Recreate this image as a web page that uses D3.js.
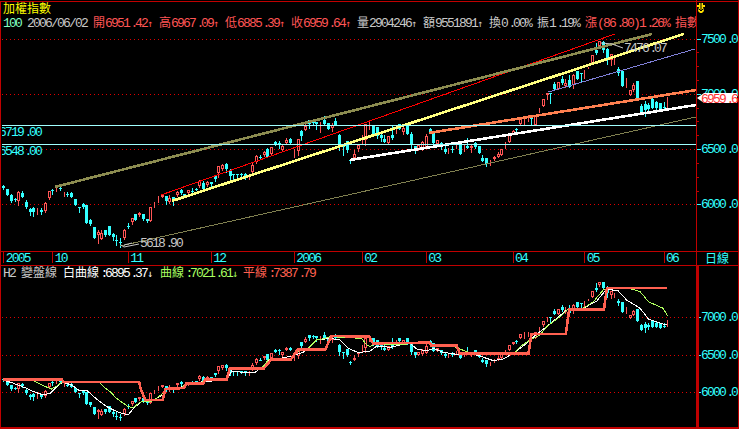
<!DOCTYPE html>
<html>
<head>
<meta charset="utf-8">
<script src="https://cdn.jsdelivr.net/npm/d3@7"></script>
<style>
  html, body { margin: 0; padding: 0; background: #000; }
  svg { display: block; }
</style>
</head>
<body>
<div id="chart"></div>
<script>
// daily candles, one value per trading day
var opens = [6170,6140,6085,6049,6031,6103,6022,5959,5968,5941,
  5950,5941,6058,6130,6149,6149,6094,6094,6103,6049,
  5977,6004,5995,5859,5796,5724,5688,5769,5805,5733,
  5679,5660,5697,5805,5841,5914,5904,5914,5868,5850,
  5995,6067,6067,6076,6022,6067,6085,6130,6094,6103,
  6121,6139,6166,6193,6176,6203,6257,6284,6320,6365,
  6302,6275,6275,6275,6275,6257,6293,6384,6429,6447,
  6501,6456,6564,6555,6492,6555,6591,6465,6483,6664,
  6673,6763,6745,6745,6727,6763,6736,6691,6754,6628,
  6528,6573,6401,6420,6501,6580,6582,6709,6718,6700,
  6628,6591,6555,6628,6673,6727,6655,6718,6637,6528,
  6492,6501,6519,6682,6652,6546,6555,6501,6483,6501,
  6519,6537,6519,6528,6510,6555,6528,6420,6420,6384,
  6411,6429,6447,6546,6564,6637,6682,6727,6760,6773,
  6782,6718,6845,6890,6990,7007,7089,7044,7134,7071,
  7125,7080,7206,7188,7188,7237,7279,7396,7432,7468,
  7405,7306,7315,7224,7206,7098,6990,7035,7116,6890,
  6908,6899,6953,6926,6917,6881,6951];
var highs = [6179,6140,6094,6058,6121,6121,6040,5968,5977,5968,
  5968,6022,6121,6140,6167,6176,6112,6112,6112,6049,
  5977,6013,5995,5868,5796,5769,5769,5769,5805,5742,
  5724,5697,5778,5832,5877,5914,5932,5914,5868,5977,
  6022,6076,6085,6076,6085,6067,6121,6139,6094,6130,
  6148,6148,6221,6212,6212,6203,6257,6347,6365,6374,
  6320,6275,6275,6284,6284,6275,6384,6447,6447,6483,
  6510,6519,6573,6573,6537,6600,6600,6501,6591,6673,
  6736,6763,6763,6745,6745,6799,6736,6736,6781,6637,
  6528,6573,6413,6492,6537,6628,6727,6745,6718,6700,
  6646,6628,6619,6718,6700,6727,6700,6718,6655,6528,
  6537,6573,6637,6691,6652,6582,6564,6537,6510,6528,
  6546,6537,6537,6600,6537,6564,6528,6447,6420,6402,
  6438,6474,6501,6564,6628,6673,6691,6780,6800,6809,
  6782,6809,6872,6953,7007,7007,7107,7107,7161,7134,
  7170,7179,7206,7188,7215,7246,7351,7459,7476,7477,
  7414,7360,7324,7242,7206,7143,7035,7098,7116,6908,
  6935,6917,6962,6935,6917,6926,6967];
var lows = [6140,6085,6022,6031,5995,6067,5968,5904,5895,5914,
  5914,5932,6049,6094,6121,6130,6076,6076,6067,5995,
  5932,5968,5832,5814,5697,5651,5688,5715,5724,5679,
  5633,5619,5688,5787,5823,5859,5895,5859,5841,5850,
  5977,6022,6067,6004,6013,5995,6076,6094,6067,6085,
  6112,6130,6157,6139,6166,6166,6212,6248,6311,6293,
  6230,6230,6230,6248,6230,6230,6293,6374,6420,6438,
  6429,6456,6537,6510,6483,6555,6555,6429,6447,6582,
  6673,6691,6718,6682,6655,6727,6682,6664,6718,6492,
  6447,6474,6377,6420,6483,6552,6537,6682,6628,6600,
  6573,6564,6555,6591,6646,6682,6637,6637,6501,6465,
  6492,6492,6519,6652,6552,6546,6501,6465,6465,6474,
  6510,6456,6483,6510,6474,6510,6465,6393,6347,6357,
  6402,6429,6447,6510,6564,6637,6655,6727,6727,6755,
  6727,6718,6836,6887,6953,6917,7044,7044,7089,7062,
  7062,7053,7134,7107,7143,7237,7279,7360,7420,7378,
  7270,7261,7270,7170,7071,7062,6990,7026,6953,6836,
  6800,6845,6872,6863,6854,6872,6885];
var closes = [6152,6085,6031,6040,6112,6070,5977,5932,5932,5950,
  5932,6013,6121,6121,6158,6140,6103,6085,6067,5995,
  5968,5977,5832,5823,5697,5751,5742,5724,5724,5706,
  5670,5651,5769,5796,5877,5859,5923,5868,5850,5977,
  6004,6076,6085,6031,6058,6031,6112,6103,6067,6130,
  6112,6130,6212,6139,6203,6185,6230,6347,6356,6320,
  6257,6266,6266,6266,6248,6266,6356,6438,6420,6474,
  6429,6519,6537,6546,6528,6582,6555,6474,6591,6618,
  6709,6727,6736,6727,6736,6727,6682,6718,6718,6528,
  6519,6492,6392,6459,6537,6590,6727,6718,6628,6618,
  6600,6564,6619,6600,6682,6682,6691,6637,6537,6492,
  6537,6564,6619,6652,6552,6582,6519,6474,6492,6492,
  6528,6456,6528,6510,6528,6519,6465,6393,6366,6393,
  6429,6456,6501,6555,6628,6664,6673,6773,6770,6782,
  6773,6809,6854,6953,7007,6998,7044,7107,7098,7098,
  7062,7170,7134,7179,7197,7246,7351,7369,7477,7396,
  7324,7360,7324,7188,7071,7107,7035,7080,6953,6836,
  6854,6863,6872,6872,6854,6872,6960];

// month ticks on the date strip
var monthIndex = [0, 13, 33, 55, 77, 95, 112, 135, 154, 175];
var monthLabels = ["2005", "10", "11", "12", "2006", "02", "03", "04", "05", "06"];

var upperTicks = [6000, 6500, 7000, 7500];
var upperMinor = [6125, 6250, 6375, 6625, 6750, 6875, 7125, 7250, 7375];
var lowerTicks = [6000, 6500, 7000];
var lowerMinor = [6250, 6375, 6750, 6875];
var levelLines = [6719, 6548];

// hand drawn trend lines: [day, index value]
var oliveThick = [[13.7, 6158], [172, 7541]];
var yellowLine = [[44.7, 6031], [180.4, 7541]];
var redLine = [[41.8, 6085], [162.1, 7541]];
var blueLine = [[144.4, 7016], [183.3, 7405]];
var orangeLine = [[112.8, 6646], [183.8, 7035]];
var whiteLine = [[91.9, 6402], [183.6, 6899]];
var oliveThin = [[31, 5624], [183.6, 6791]];

// lower panel curves: [day, value] at the bends
var whiteCurve = [[0,6157],[2.7,6113],[5.8,6054],[8,6001],[10.6,5956],[12.4,5978],[14.6,6090],[15.9,6126],
  [18.1,6090],[20.3,6010],[22.3,6010],[24.7,5902],[27.4,5799],[30.5,5723],[33.1,5687],[34.5,5777],
  [36.7,5866],[39.3,5875],[41.5,5933],[43,6023],[46.8,6045],[48.2,6099],[53,6135],[59.2,6157],
  [60.5,6278],[63.6,6260],[66.7,6260],[68.9,6337],[70.2,6413],[76.9,6484],[79.5,6529],[83,6695],
  [86.6,6717],[89.2,6695],[91.4,6583],[94.1,6525],[97.2,6547],[99,6614],[102.5,6596],[106,6637],
  [107.8,6650],[109.6,6574],[112.2,6547],[114,6583],[116.6,6529],[120.2,6502],[125.5,6493],[129.9,6417],
  [132.5,6440],[135.2,6516],[138.7,6650],[140.9,6753],[144,6874],[149.3,7098],[153.7,7121],[157.3,7219],
  [159.9,7380],[163,7354],[165.2,7233],[168.8,7121],[171,6977],[174.9,6910],[176,6895]];
var greenCurve = [[0,6157],[7.5,6157],[10.6,6081],[12.8,6036],[14.6,6090],[15.7,6135],[25.6,6126],[26.5,6068],
  [28.3,6001],[30,5911],[33.1,5799],[34.5,5786],[36.2,5857],[37.6,5875],[39.3,5875],[40.6,5911],
  [42.4,5978],[43.1,6036],[45.1,6036],[47.3,6054],[47.9,6090],[52.1,6099],[53,6148],[59.2,6166],
  [60.1,6292],[67.1,6292],[68.9,6337],[70.2,6426],[76.4,6449],[77.3,6529],[80.8,6583],[83,6695],
  [85.3,6717],[86.6,6740],[95,6717],[96.3,6628],[97.2,6605],[98.1,6628],[106,6628],[107.8,6650],
  [112.9,6664],[113.8,6628],[119.7,6605],[121,6574],[123.3,6529],[135.2,6502],[137,6605],[139.6,6695],
  [142.3,6762],[144,6874],[147.6,7009],[149.8,7121],[153.7,7121],[156.4,7210],[159,7367],[160.1,7389],
  [166.5,7380],[168.8,7345],[171,7210],[174.9,7121],[175.8,7040],[176,7022]];
var flatLine = [[0,6166],[15.5,6166],[16,6130],[36,6130],[36.4,6040],[37.6,5889],[42.2,5889],[43,6036],
  [47.9,6050],[48.5,6108],[53,6108],[53.5,6162],[59.2,6162],[60,6310],[69,6310],[71,6431],
  [76.2,6431],[78,6565],[85.3,6565],[87,6749],[97,6740],[98,6650],[113,6659],[113.5,6619],
  [120.2,6619],[121,6516],[139.2,6516],[140,6776],[149.1,6776],[150,7103],[159.2,7103],[160,7394],[176,7394]];

var red = "#ff5555", cyan = "#33ffff", frame = "#c00000", gray = "#c8c8c8";
var width = 739, height = 429;

var x = d3.scaleLinear().domain([0, 176]).range([3.3, 667.3]);
var yUp = d3.scaleLinear().domain([6000, 7500]).range([204.4, 38.5]);
var yLow = d3.scaleLinear().domain([6000, 7000]).range([391.7, 317.3]);

var svg = d3.select("#chart").append("svg")
    .attr("width", width)
    .attr("height", height)
    .style("background", "#000");

var defs = svg.append("defs");
defs.append("clipPath").attr("id", "plotUp").append("rect")
    .attr("x", 2).attr("y", 2).attr("width", 694).attr("height", 249);
defs.append("clipPath").attr("id", "plotLow").append("rect")
    .attr("x", 2).attr("y", 266).attr("width", 694).attr("height", 162);

// writes a string on the terminal's character grid: 6px half width, 12px full width
function cells(t, str, x0) {
  var runs = [], px = x0;
  Array.from(str).forEach(function(ch) {
    var kind = ch.charCodeAt(0) > 0x2E80 ? "wide" : (ch === "↑" || ch === "↓" ? "arrow" : "narrow");
    var last = runs[runs.length - 1];
    if (!last || last.kind !== kind) { last = { kind: kind, text: "", xs: [] }; runs.push(last); }
    last.text += ch;
    last.xs.push(px + (ch === "." || ch === ":" ? 1.5 : 0));
    px += kind === "wide" ? 12 : 6;
  });
  runs.forEach(function(r) {
    t.append("tspan")
        .attr("x", r.xs.join(" "))
        .style("font-family", r.kind === "wide" ? "'Noto Sans CJK TC'"
          : (r.kind === "arrow" ? "'DejaVu Sans Mono'" : "'Liberation Sans Narrow','Liberation Mono','DejaVu Sans Mono'"))
        .style("font-size", r.kind === "wide" ? "12px" : (r.kind === "arrow" ? "10px" : "13px"))
        .text(r.text);
  });
}

function label(parent, str, x0, y0, color) {
  var t = parent.append("text").attr("y", y0).attr("fill", color);
  cells(t, str, x0);
  return t;
}

function candles(parent, y) {
  var g = parent.append("g").attr("shape-rendering", "crispEdges");
  var days = d3.range(opens.length);
  var isUp = function(i) { return closes[i] >= opens[i]; };
  var cx = function(i) { return Math.round(x(i)); };
  var bodyTop = function(i) { return Math.round(y(Math.max(opens[i], closes[i]))); };
  var bodyBottom = function(i) { return Math.round(y(Math.min(opens[i], closes[i]))); };

  g.selectAll("line.wick").data(days).join("line")
      .attr("class", "wick")
      .attr("x1", function(i) { return cx(i) + 0.5; })
      .attr("x2", function(i) { return cx(i) + 0.5; })
      .attr("y1", function(i) { return Math.round(y(highs[i])); })
      .attr("y2", function(i) { return Math.round(y(lows[i])) + 1; })
      .attr("stroke", function(i) { return isUp(i) ? red : cyan; });

  g.selectAll("rect.down").data(days.filter(function(i) { return !isUp(i); })).join("rect")
      .attr("class", "down")
      .attr("x", function(i) { return cx(i) - 1; })
      .attr("y", bodyTop)
      .attr("width", 3)
      .attr("height", function(i) { return Math.max(1, bodyBottom(i) - bodyTop(i)); })
      .attr("fill", cyan);

  g.selectAll("rect.up").data(days.filter(isUp)).join("rect")
      .attr("class", "up")
      .attr("x", function(i) { return cx(i) - 0.5; })
      .attr("y", function(i) { return bodyTop(i) + 0.5; })
      .attr("width", 2)
      .attr("height", function(i) { return Math.max(0, bodyBottom(i) - bodyTop(i) - 1); })
      .attr("fill", "#000")
      .attr("stroke", red);
}

// upper panel
var upper = svg.append("g").attr("clip-path", "url(#plotUp)");

upper.append("g").selectAll("line").data(upperTicks).join("line")
    .attr("x1", 2).attr("x2", 696)
    .attr("y1", function(d) { return Math.round(yUp(d)) + 0.5; })
    .attr("y2", function(d) { return Math.round(yUp(d)) + 0.5; })
    .attr("stroke", "#e00000")
    .attr("stroke-dasharray", "1 3")
    .attr("shape-rendering", "crispEdges");

candles(upper, yUp);

var lineUp = d3.line().x(function(d) { return x(d[0]); }).y(function(d) { return yUp(d[1]); });
var lineLow = d3.line().x(function(d) { return x(d[0]); }).y(function(d) { return yLow(d[1]); });

function trend(points, color, w) {
  upper.append("path")
      .attr("d", lineUp(points))
      .attr("fill", "none")
      .attr("stroke", color)
      .attr("stroke-width", w)
      .attr("shape-rendering", "crispEdges");
}
trend(oliveThin, "#808050", 1);
trend(blueLine, "#8080d8", 1);
trend(redLine, "#ff0000", 1);
trend(oliveThick, "#8c8c50", 2.6);
trend(yellowLine, "#ffff80", 2.6);
trend(orangeLine, "#ff8050", 2.6);
trend(whiteLine, "#ffffff", 2.6);

// horizontal levels with their labels
upper.append("g").selectAll("line").data(levelLines).join("line")
    .attr("x1", 2).attr("x2", 696)
    .attr("y1", function(d) { return Math.round(yUp(d)) + 0.5; })
    .attr("y2", function(d) { return Math.round(yUp(d)) + 0.5; })
    .attr("stroke", "#a0ffff")
    .attr("shape-rendering", "crispEdges");

levelLines.forEach(function(d) {
  label(upper, d.toFixed(2), -1, Math.round(yUp(d)) + 11, cyan);
});

// high and low markers
upper.append("path")
    .attr("d", "M121,245 L124,247 L139,244 M124,245 L132,243")
    .attr("fill", "none").attr("stroke", gray);
label(upper, "5618.90", 140, 247, gray);

upper.append("path")
    .attr("d", "M601,43 L612,44 L623,48")
    .attr("fill", "none").attr("stroke", gray);
label(upper, "7476.07", 624, 52, gray);

// header lines
label(svg, "加權指數", 3, 13, "#ffff00");
label(svg, "100", 3, 27, "#80ffc0");
label(svg, "2006/06/02", 27, 27, gray);
label(svg, "開6951.42↑", 93, 27, red);
label(svg, "高6967.09↑", 159, 27, red);
label(svg, "低6885.39↑", 225, 27, red);
label(svg, "收6959.64↑", 291, 27, red);
label(svg, "量2904246↑", 357, 27, gray);
label(svg, "額9551891↑", 423, 27, gray);
label(svg, "換0.00%", 489, 27, gray);
label(svg, "振1.19%", 537, 27, gray);
label(svg, "漲(86.80)1.26%", 585, 27, red);
label(svg, "指數", 675, 27, red);

// lower panel
var lower = svg.append("g").attr("clip-path", "url(#plotLow)");

lower.append("g").selectAll("line").data(lowerTicks).join("line")
    .attr("x1", 2).attr("x2", 696)
    .attr("y1", function(d) { return Math.round(yLow(d)) + 0.5; })
    .attr("y2", function(d) { return Math.round(yLow(d)) + 0.5; })
    .attr("stroke", "#e00000")
    .attr("stroke-dasharray", "1 3")
    .attr("shape-rendering", "crispEdges");

candles(lower, yLow);

function curve(points, color, w) {
  lower.append("path")
      .attr("d", lineLow(points))
      .attr("fill", "none")
      .attr("stroke", color)
      .attr("stroke-width", w)
      .attr("shape-rendering", "crispEdges");
}
curve(whiteCurve, "#ffffff", 1);
curve(greenCurve, "#b0ff60", 1);
curve(flatLine, "#ff6050", 2.6);

label(svg, "H2", 3, 277, gray);
label(svg, "變盤線", 21, 277, gray);
label(svg, "白曲線:6895.37↓", 63, 277, "#ffffff");
label(svg, "曲線:7021.61↓", 160, 277, "#a8ff60");
label(svg, "平線:7387.79", 243, 277, "#ff6050");

// right hand panel and frame
svg.append("rect").attr("x", 696).attr("y", 2).attr("width", 43).attr("height", 427).attr("fill", "#000");

var rightUp = svg.append("g").attr("transform", "translate(696,0)")
    .call(d3.axisRight(yUp).tickValues(upperTicks).tickSize(5).tickPadding(0).tickFormat(function(d) { return d.toFixed(1); }));
var rightLow = svg.append("g").attr("transform", "translate(696,0)")
    .call(d3.axisRight(yLow).tickValues(lowerTicks).tickSize(5).tickPadding(0).tickFormat(function(d) { return d.toFixed(1); }));
[rightUp, rightLow].forEach(function(a) {
  a.select(".domain").remove();
  a.selectAll("line").attr("stroke", cyan).attr("shape-rendering", "crispEdges");
  a.selectAll("text").each(function(d) {
    var t = d3.select(this);
    t.text(null).attr("dy", null).attr("x", null).attr("y", 3.5).attr("fill", cyan);
    cells(t, d.toFixed(1), 5);
  });
});

svg.append("g").attr("transform", "translate(696,0)")
    .call(d3.axisRight(yUp).tickValues(upperMinor).tickSize(3).tickFormat(""))
    .call(function(a) {
      a.select(".domain").remove();
      a.selectAll("line").attr("stroke", frame).attr("shape-rendering", "crispEdges");
    });
svg.append("g").attr("transform", "translate(696,0)")
    .call(d3.axisRight(yLow).tickValues(lowerMinor).tickSize(3).tickFormat(""))
    .call(function(a) {
      a.select(".domain").remove();
      a.selectAll("line").attr("stroke", frame).attr("shape-rendering", "crispEdges");
    });

// date strip
svg.append("rect").attr("x", 2).attr("y", 252).attr("width", 694).attr("height", 13).attr("fill", "#000");
var dates = svg.append("g").attr("transform", "translate(0,252)")
    .call(d3.axisBottom(x).tickValues(monthIndex).tickSize(11).tickPadding(0)
      .tickFormat(function(d, i) { return monthLabels[i]; }));
dates.select(".domain").remove();
dates.selectAll("line").attr("stroke", frame).attr("shape-rendering", "crispEdges");
dates.selectAll("text").each(function(d, i) {
  var t = d3.select(this);
  t.text(null).attr("dy", null).attr("y", 10).attr("text-anchor", "start").attr("fill", cyan);
  cells(t, monthLabels[i], 2);
});

label(svg, "日線", 705, 263, cyan);

// frame lines
var frames = [
  [0.5, 0.5, 0.5, 429], [1, 1, 738, 1], [696.5, 0, 696.5, 429], [738, 0, 738, 429],
  [0, 251.5, 738, 251.5], [0, 265.5, 738, 265.5], [0, 428, 738, 428], [698, 266, 698, 429]
];
svg.append("g").attr("shape-rendering", "crispEdges").selectAll("line").data(frames).join("line")
    .attr("x1", function(d) { return d[0]; }).attr("y1", function(d) { return d[1]; })
    .attr("x2", function(d) { return d[2]; }).attr("y2", function(d) { return d[3]; })
    .attr("stroke", frame)
    .attr("stroke-width", function(d, i) { return i === 7 || i === 6 ? 2 : 1; });

// last close tag
var tagY = Math.round(yUp(closes[closes.length - 1] - 0.36));
svg.append("path")
    .attr("d", "M697," + tagY + " L704," + (tagY - 5) + " L737," + (tagY - 5) + " L737," + (tagY + 5) + " L704," + (tagY + 5) + " Z")
    .attr("fill", "#ffffff");
label(svg, "6959.6", 701, tagY + 5, "#ff3030");

// alarm bell
svg.append("path")
    .attr("d", "M699,3 L703,3 L703,5 L705,5 L705,7 L703,7 L704,11 L702,13 L700,13 L698,11 L699,7 L697,7 L697,5 L699,5 Z")
    .attr("fill", "#ffe000");
svg.append("path")
    .attr("d", "M701,3 L701,11 M699,9 L701,11 L703,9")
    .attr("fill", "none").attr("stroke", "#000");
</script>
</body>
</html>
